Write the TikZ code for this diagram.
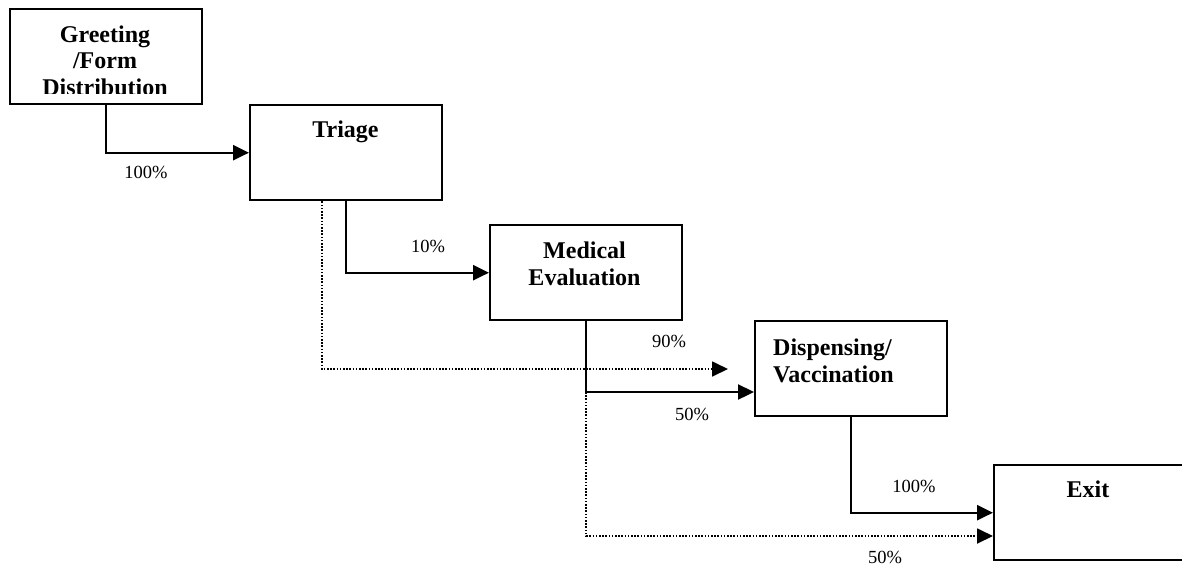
\documentclass[tikz,border=0pt]{standalone}
\usepackage{fontspec}
\setmainfont{Liberation Serif}
\usetikzlibrary{arrows.meta}
\begin{document}
\begin{tikzpicture}[x=1pt,y=-1pt,
  box/.style={draw, line width=2.4pt, minimum width=192pt, minimum height=95pt, anchor=north west, inner sep=0pt},
  flow/.style={line width=2.3pt, -{Triangle[length=16pt,width=15pt]}},
  dotflow/.style={line width=1.8pt, dash pattern=on 1.6pt off 1.6pt, -{Triangle[length=16pt,width=15pt]}},
  boxtext/.style={font=\fontsize{24}{27}\selectfont\bfseries, anchor=base, inner sep=0pt},
  lbl/.style={font=\fontsize{18.5}{22}\selectfont, anchor=base, inner sep=0pt}]
\useasboundingbox (0,0) rectangle (1182,565);
\clip (0,0) rectangle (1182,565);
\fill[white] (0,0) rectangle (1182,565);

% boxes
\node[box] (greet) at (9,8) {};
\node[box] (triage) at (249,104) {};
\node[box] (med) at (489,224) {};
\node[box] (disp) at (754,320) {};
\node[box] (exit) at (993,464) {};

% box texts
\begin{scope}
\clip (10,9) rectangle (200,93);
\node[boxtext] (t1) at (105,42) {Greeting};
\node[boxtext] (t2) at (105,68) {/Form};
\node[boxtext] (t3) at (105,95) {Distribution};
\end{scope}
\node[boxtext] (t4) at (345.5,137) {Triage};
\node[boxtext] (t5) at (584.5,258) {Medical};
\node[boxtext] (t6) at (584.5,285) {Evaluation};
\node[boxtext, anchor=base west] (t7) at (773,355) {Dispensing/};
\node[boxtext, anchor=base west] (t8) at (773,382) {Vaccination};
\node[boxtext] (t9) at (1088,497) {Exit};

% helper coordinates
\coordinate (ymd) at (0,392);
\coordinate (dend1) at (728,369);
\coordinate (ydot2) at (0,536);

% connectors
\draw[flow] (greet.south) |- (triage.west);
\draw[flow] (triage.south) |- (med.west);
\draw[dotflow] ([xshift=-24.5pt]triage.south) |- (dend1);
\draw[flow] (med.south) |- (disp.west |- ymd);
\draw[dotflow] (med.south |- ymd) |- (exit.west |- ydot2);
\draw[flow] (disp.south) |- (exit.west);

% labels
\node[lbl] (l1) at (146,178) {100\%};
\node[lbl] (l2) at (428,252) {10\%};
\node[lbl] (l3) at (669,347) {90\%};
\node[lbl] (l4) at (692,420) {50\%};
\node[lbl] (l5) at (914,492) {100\%};
\node[lbl] (l6) at (885,563) {50\%};
\end{tikzpicture}
\end{document}
